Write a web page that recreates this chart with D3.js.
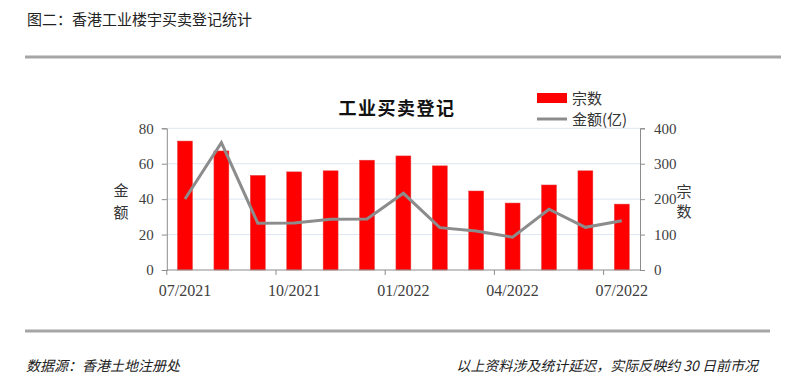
<!DOCTYPE html>
<html>
<head>
<meta charset="utf-8">
<script src="https://cdn.jsdelivr.net/npm/d3@7"></script>
<style>
  body { margin: 0; background: #fff; }
  svg { display: block; }
  .serif { font-family: "Liberation Serif", "Noto Sans CJK SC", serif; }
  .cjk { font-family: "Noto Sans CJK SC", "Liberation Serif", serif; }
</style>
</head>
<body>
<div id="chart"></div>
<script>
// months shown on the x axis
var months = ["07/2021", "08/2021", "09/2021", "10/2021", "11/2021", "12/2021",
              "01/2022", "02/2022", "03/2022", "04/2022", "05/2022", "06/2022", "07/2022"];
// 宗数 (bars, right axis)
var deals = [364, 336, 267, 277, 280, 310, 322, 294, 223, 189, 240, 280, 186];
// 金额(亿) (line, left axis)
var amount = [40.1, 71.9, 26.4, 26.6, 28.6, 28.8, 43.3, 23.9, 22.0, 18.5, 34.3, 24.1, 27.8];
var leftTicks = [0, 20, 40, 60, 80];
var rightTicks = [0, 100, 200, 300, 400];

var W = 789, H = 379;
var svg = d3.select("#chart").append("svg")
    .attr("width", W)
    .attr("height", H);

// page header
svg.append("text")
    .attr("class", "cjk")
    .attr("x", 27).attr("y", 25)
    .attr("font-size", 15)
    .attr("fill", "#222")
    .text("图二：香港工业楼宇买卖登记统计");

svg.append("line")
    .attr("x1", 25).attr("x2", 781)
    .attr("y1", 57).attr("y2", 57)
    .attr("stroke", "#a6a6a6").attr("stroke-width", 3);

svg.append("line")
    .attr("x1", 25).attr("x2", 770)
    .attr("y1", 331).attr("y2", 331)
    .attr("stroke", "#a6a6a6").attr("stroke-width", 3);

svg.append("text")
    .attr("class", "cjk")
    .attr("x", 26).attr("y", 371)
    .attr("font-size", 14)
    .attr("font-style", "italic")
    .attr("fill", "#222")
    .text("数据源：香港土地注册处");

svg.append("text")
    .attr("class", "cjk")
    .attr("x", 758).attr("y", 371)
    .attr("text-anchor", "end")
    .attr("font-size", 14)
    .attr("font-style", "italic")
    .attr("fill", "#222")
    .text("以上资料涉及统计延迟，实际反映约 30 日前市况");

// plot area
var plotL = 166.8, plotR = 640, plotT = 128.3, plotB = 270;

var x = d3.scaleBand()
    .domain(months)
    .range([plotL, plotR])
    .paddingInner(0.59)
    .paddingOuter(0.295);

var xb = d3.scaleBand().domain(months).range([plotL, plotR]);

var yL = d3.scaleLinear().domain([0, 80]).range([plotB, plotT]);
var yR = d3.scaleLinear().domain([0, 400]).range([plotB, plotT]);

// gridlines
svg.append("g")
    .selectAll("line")
    .data(leftTicks.slice(1))
    .enter().append("line")
    .attr("x1", plotL).attr("x2", plotR)
    .attr("y1", d => yL(d)).attr("y2", d => yL(d))
    .attr("stroke", "#dce6f2").attr("stroke-width", 1);

// bars
svg.append("g")
    .selectAll("rect")
    .data(deals)
    .enter().append("rect")
    .attr("x", (d, i) => x(months[i]))
    .attr("width", x.bandwidth())
    .attr("y", d => yR(d))
    .attr("height", d => plotB - yR(d))
    .attr("fill", "#ff0000")
    .attr("stroke", "#e34040")
    .attr("stroke-width", 0.5);

// line
var line = d3.line()
    .x((d, i) => xb(months[i]) + xb.bandwidth() / 2)
    .y(d => yL(d));

svg.append("path")
    .datum(amount)
    .attr("d", line)
    .attr("fill", "none")
    .attr("stroke", "#8c8c8c")
    .attr("stroke-width", 3)
    .attr("stroke-linejoin", "miter");

// left axis
var axL = svg.append("g")
    .attr("transform", "translate(" + plotL + ",0)")
    .call(d3.axisLeft(yL).tickValues(leftTicks).tickSize(5).tickPadding(8));
axL.select(".domain").attr("stroke", "#8c8c8c");
axL.selectAll(".tick line").attr("stroke", "#8c8c8c");
axL.selectAll("text")
    .attr("class", "serif")
    .attr("font-size", 15)
    .attr("fill", "#404040");

// right axis
var axR = svg.append("g")
    .attr("transform", "translate(" + plotR + ",0)")
    .call(d3.axisRight(yR).tickValues(rightTicks).tickSize(5).tickPadding(9));
axR.select(".domain").attr("stroke", "#8c8c8c");
axR.selectAll(".tick line").attr("stroke", "#8c8c8c");
axR.selectAll("text")
    .attr("class", "serif")
    .attr("font-size", 15)
    .attr("fill", "#404040");

// bottom axis: ticks at every third band boundary, labels at band centres
var axB = svg.append("g");
axB.append("line")
    .attr("x1", plotL).attr("x2", plotR)
    .attr("y1", plotB).attr("y2", plotB)
    .attr("stroke", "#8c8c8c");
var shown = months.filter((m, i) => i % 3 === 0);
axB.selectAll(".tk")
    .data(shown)
    .enter().append("line")
    .attr("class", "tk")
    .attr("x1", d => xb(d)).attr("x2", d => xb(d))
    .attr("y1", plotB).attr("y2", plotB + 5)
    .attr("stroke", "#8c8c8c");
axB.selectAll(".lb")
    .data(shown)
    .enter().append("text")
    .attr("class", "serif lb")
    .attr("x", d => xb(d) + xb.bandwidth() / 2)
    .attr("y", 296)
    .attr("text-anchor", "middle")
    .attr("font-size", 16)
    .attr("fill", "#404040")
    .text(d => d);

// axis titles
svg.append("text").attr("class", "cjk")
    .attr("x", 121).attr("y", 196).attr("text-anchor", "middle")
    .attr("font-size", 15).attr("fill", "#333").text("金");
svg.append("text").attr("class", "cjk")
    .attr("x", 121).attr("y", 218).attr("text-anchor", "middle")
    .attr("font-size", 15).attr("fill", "#333").text("额");
svg.append("text").attr("class", "cjk")
    .attr("x", 684).attr("y", 197).attr("text-anchor", "middle")
    .attr("font-size", 15).attr("fill", "#333").text("宗");
svg.append("text").attr("class", "cjk")
    .attr("x", 684).attr("y", 217).attr("text-anchor", "middle")
    .attr("font-size", 15).attr("fill", "#333").text("数");

// chart title
svg.append("text").attr("class", "cjk")
    .attr("x", 397).attr("y", 115).attr("text-anchor", "middle")
    .attr("font-size", 18).attr("font-weight", "bold")
    .attr("letter-spacing", 1.5)
    .attr("fill", "#111").text("工业买卖登记");

// legend
var lg = svg.append("g");
lg.append("rect")
    .attr("x", 537).attr("y", 93).attr("width", 30).attr("height", 10)
    .attr("fill", "#ff0000");
lg.append("text").attr("class", "cjk")
    .attr("x", 572).attr("y", 104)
    .attr("font-size", 15).attr("fill", "#333").text("宗数");
lg.append("line")
    .attr("x1", 537).attr("x2", 567).attr("y1", 119).attr("y2", 119)
    .attr("stroke", "#8c8c8c").attr("stroke-width", 3);
lg.append("text").attr("class", "cjk")
    .attr("x", 572).attr("y", 125)
    .attr("font-size", 15).attr("fill", "#333").text("金额(亿)");
</script>
</body>
</html>
